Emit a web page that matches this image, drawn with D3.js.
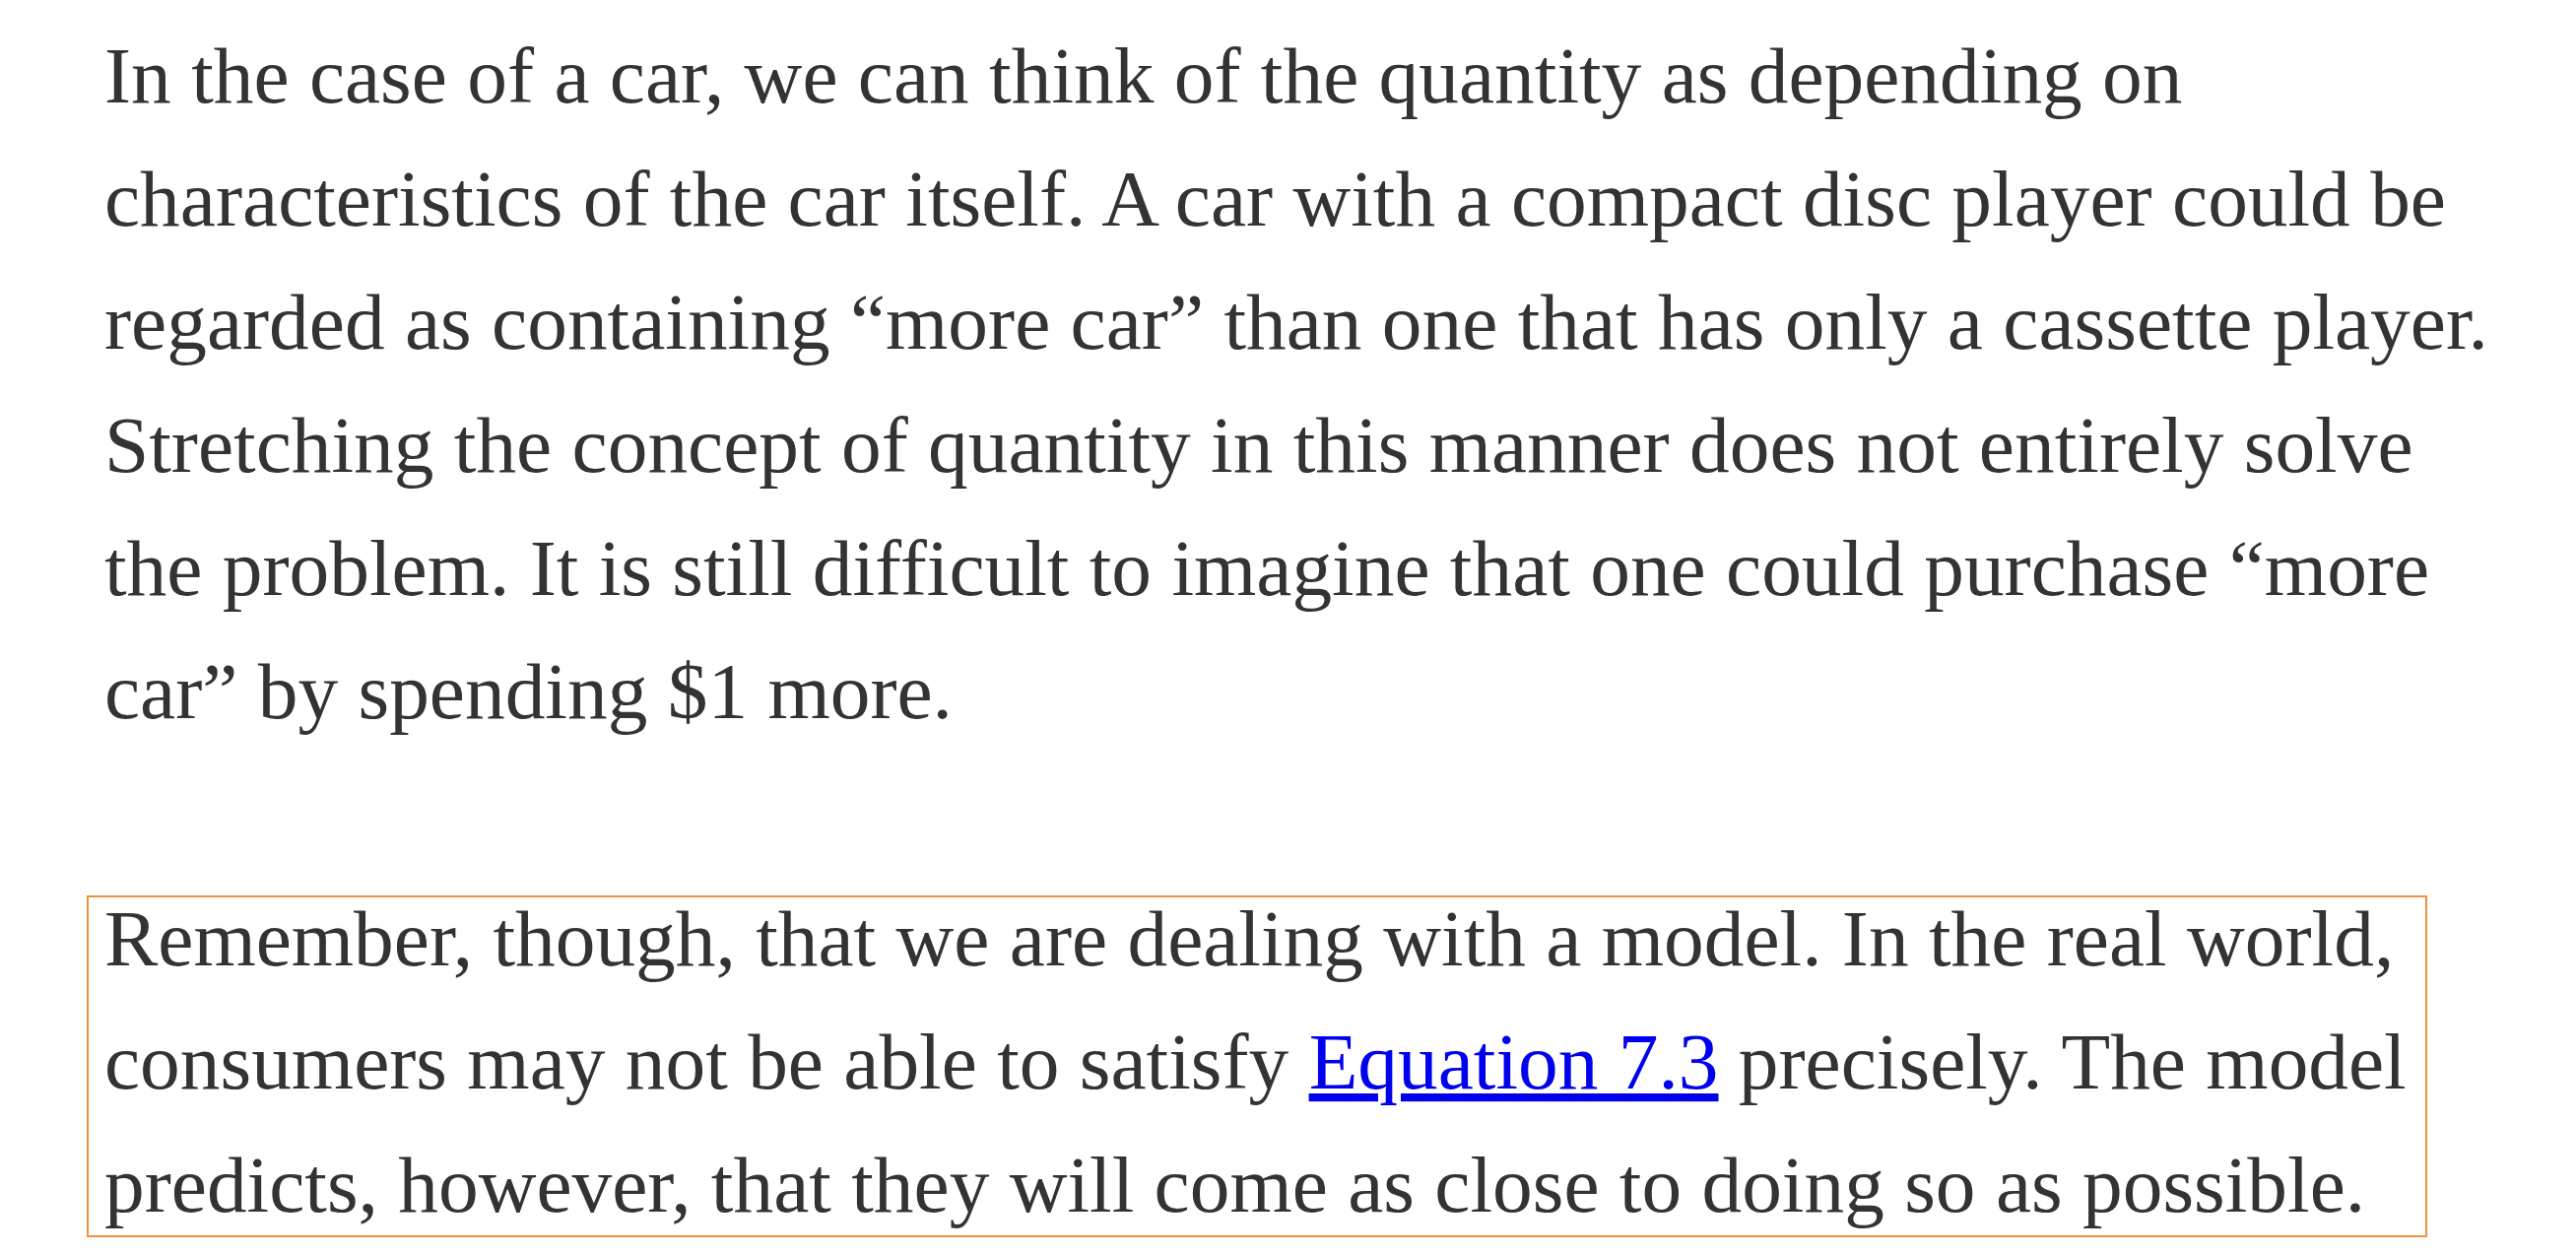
<!DOCTYPE html>
<html><head><meta charset="utf-8">
<script src="https://cdn.jsdelivr.net/npm/d3@7"></script>
<style>body{margin:0;background:#fff}</style></head>
<body><div id="page"></div>
<script>
const para1 = [
  "In the case of a car, we can think of the quantity as depending on",
  "characteristics of the car itself. A car with a compact disc player could be",
  "regarded as containing \u201cmore car\u201d than one that has only a cassette player.",
  "Stretching the concept of quantity in this manner does not entirely solve",
  "the problem. It is still difficult to imagine that one could purchase \u201cmore",
  "car\u201d by spending $1 more."
];
const para2 = [
  [["Remember, though, that we are dealing with a model. In the real world,", false]],
  [["consumers may not be able to satisfy ", false], ["Equation 7.3", true], [" precisely. The model", false]],
  [["predicts, however, that they will come as close to doing so as possible.", false]]
];
const W = 2615, H = 1273;
const left = 106, lineGap = 125;
const top1 = 104, top2 = 980;

const svg = d3.select("#page").append("svg").attr("width", W).attr("height", H);

// Box around the second paragraph
svg.append("rect")
  .attr("x", 89).attr("y", 910).attr("width", 2463 - 89).attr("height", 1255 - 910)
  .attr("fill", "none").attr("stroke", "#f0913f").attr("stroke-width", 2);

const font = "'Liberation Serif', serif";
// fit font size to the width of the first line
const probe = svg.append("text").attr("font-family", font).attr("font-size", 60).text(para1[0]);
const fs = 60 * 2110 / probe.node().getComputedTextLength();
probe.remove();

svg.selectAll("text.p1").data(para1).enter().append("text")
  .attr("class", "p1")
  .attr("x", left).attr("y", (d, i) => top1 + i * lineGap)
  .attr("font-family", font).attr("font-size", fs).attr("fill", "#333")
  .text(d => d);

para2.forEach((segs, i) => {
  const t = svg.append("text")
    .attr("x", left).attr("y", top2 + i * lineGap)
    .attr("font-family", font).attr("font-size", fs).attr("fill", "#333")
    .attr("xml:space", "preserve").style("white-space", "pre");
  segs.forEach(([s, link]) => {
    const ts = t.append("tspan").text(s);
    if (link) ts.attr("fill", "#0000ee").attr("text-decoration", "underline");
  });
});
</script></body></html>
